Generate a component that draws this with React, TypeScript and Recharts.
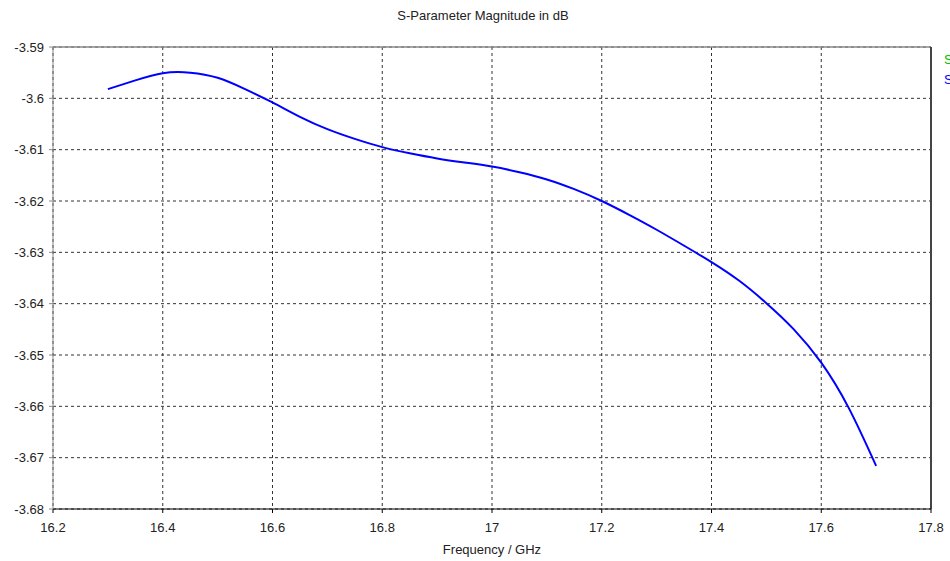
import React from 'react';
import {
  LineChart,
  Line,
  XAxis,
  YAxis,
  CartesianGrid,
  ReferenceLine,
} from 'recharts';

// Frequency in GHz and S-parameter magnitude in dB
const frequencies = [
  16.3, 16.35, 16.4, 16.45, 16.5, 16.55, 16.6, 16.65, 16.7, 16.75,
  16.8, 16.85, 16.9, 16.95, 17.0, 17.05, 17.1, 17.15, 17.2, 17.25,
  17.3, 17.35, 17.4, 17.45, 17.5, 17.55, 17.6, 17.65, 17.7,
];
const magnitudes = [
  -3.5982, -3.5965, -3.5951, -3.595, -3.596, -3.5982, -3.6008, -3.6036, -3.606, -3.6079,
  -3.6095, -3.6107, -3.6117, -3.6125, -3.6133, -3.6144, -3.6158, -3.6177, -3.62, -3.6227,
  -3.6256, -3.6287, -3.6319, -3.6355, -3.6399, -3.645, -3.6515, -3.6603, -3.6716,
];
const xTicks = [16.2, 16.4, 16.6, 16.8, 17, 17.2, 17.4, 17.6, 17.8];
const yTicks = [-3.68, -3.67, -3.66, -3.65, -3.64, -3.63, -3.62, -3.61, -3.6, -3.59];
const legendItems = [
  { name: 'S1,1', color: '#00c000' },
  { name: 'S2,1', color: '#0000ff' },
];

const chartData = frequencies.map((f, i) => ({ freq: f, value: magnitudes[i] }));

const FONT = '"Liberation Sans", Arial, sans-serif';

const fmtY = (v: number) => String(Number(v.toFixed(2)));

export default function App() {
  return (
    <div
      style={{
        position: 'absolute',
        left: 0,
        top: 0,
        width: 950,
        height: 561,
        overflow: 'hidden',
        background: '#fff',
        fontFamily: FONT,
      }}
    >
      <div
        style={{
          position: 'absolute',
          top: 8,
          left: 0,
          width: 966,
          textAlign: 'center',
          fontSize: 13,
          color: '#222',
        }}
      >
        S-Parameter Magnitude in dB
      </div>
      {/* legend sits past the right edge, as in the original export */}
      {legendItems.map((item, i) => (
        <div
          key={item.name}
          style={{
            position: 'absolute',
            left: 944,
            top: 52 + i * 20,
            fontSize: 13,
            color: item.color,
            whiteSpace: 'nowrap',
          }}
        >
          {item.name}
        </div>
      ))}
      <LineChart
        width={950}
        height={561}
        data={chartData}
        margin={{ top: 47, right: 19, bottom: 0, left: 0 }}
      >
        <CartesianGrid
          stroke="#333"
          strokeDasharray="3 3"
          horizontalValues={yTicks}
          verticalValues={xTicks}
        />
        <XAxis
          dataKey="freq"
          type="number"
          domain={[16.2, 17.8]}
          ticks={xTicks}
          height={52}
          tickSize={4}
          tickMargin={10}
          stroke="#000"
          tick={{ fill: '#222', fontSize: 13, fontFamily: FONT }}
          label={{
            value: 'Frequency / GHz',
            position: 'insideBottom',
            offset: 7,
            fill: '#222',
            fontSize: 13,
            fontFamily: FONT,
          }}
        />
        <YAxis
          type="number"
          domain={[-3.68, -3.59]}
          ticks={yTicks}
          width={53}
          tickSize={4}
          tickMargin={5}
          stroke="#888"
          tickFormatter={fmtY}
          tick={{ fill: '#222', fontSize: 13, fontFamily: FONT }}
          allowDataOverflow
        />
        <ReferenceLine y={-3.59} stroke="#888" strokeWidth={1.5} ifOverflow="extendDomain" />
        <ReferenceLine x={17.8} stroke="#444" strokeWidth={2} ifOverflow="extendDomain" />
        <Line
          type="natural"
          dataKey="value"
          stroke="#0000ff"
          strokeWidth={2}
          dot={false}
          isAnimationActive={false}
        />
      </LineChart>
    </div>
  );
}
